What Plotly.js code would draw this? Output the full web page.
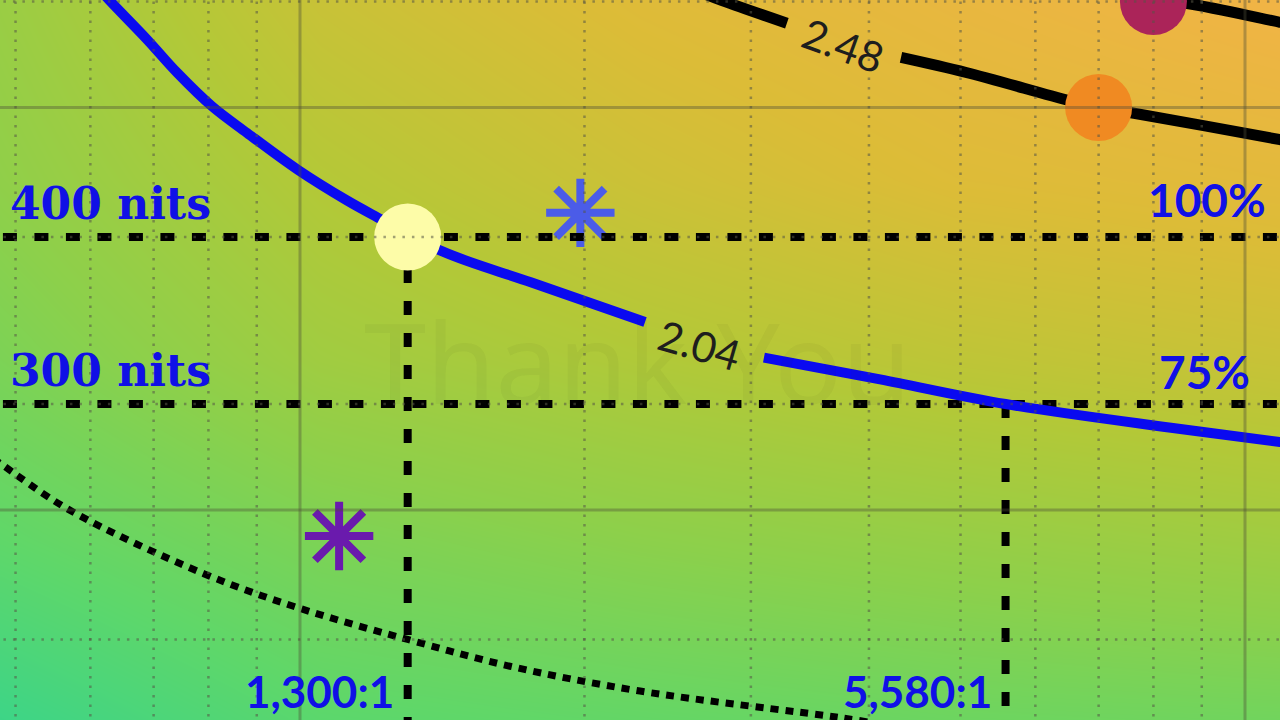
<!DOCTYPE html>
<html>
<head>
<meta charset="utf-8">
<script src="https://cdn.plot.ly/plotly-3.0.1.min.js"></script>
<style>
html,body{margin:0;padding:0;background:#ffffff;}
#chart{width:1280px;height:720px;}
</style>
</head>
<body>
<div id="chart"></div>
<script>
// ---- axis windows (log10 of contrast ratio, log10 of luminance in nits) ----
const xRangeLog = [2.68254, 4.03704];
const yRangeLog = [2.24081, 2.77932];

// ---- grid values ----
const gridMajorX = [1000, 10000];
const gridMinorX = [500, 600, 700, 800, 900, 2000, 3000, 4000, 5000, 6000, 7000, 8000, 9000];
const gridMajorY = [250, 500];
const gridMinorY = [200, 300, 400, 600];

// ---- background shading (0 = teal green, 1 = orange) ----
const bgX = [481, 1050, 2290, 4994, 10890];
const bgY = [174, 237, 324, 441, 601];
const bgShade = [
  [0.03, 0.18, 0.22, 0.26, 0.28],
  [0.20, 0.33, 0.40, 0.45, 0.50],
  [0.33, 0.50, 0.58, 0.65, 0.70],
  [0.42, 0.60, 0.72, 0.81, 0.85],
  [0.47, 0.70, 0.82, 0.90, 0.97]
];

// ---- curves ----
const curve204X = [607, 629, 689, 741, 807, 879, 995, 1121, 1206, 1417, 1755, 2318, null, 3097, 4110, 5580, 8350, 10890, 11435];
const curve204Y = [618, 601, 562, 531, 501, 478.5, 449, 426, 414, 390, 370, 345.5, null, 325, 313, 300, 288, 281, 279.5];
const curve248X = [2586, 2797, 3275, null, 4325, 5069, 6513, 7000, 7630, 10890, 11435];
const curve248Y = [614, 601, 578, null, 545, 531, 506, 500, 495, 473, 469.7];
const curveTopX = [7600, 8000, 8683, 10890, 11435];
const curveTopY = [606, 601, 598, 579, 575];
const curveDotX = [459, 481, 570, 791, 1000, 1300, 1668, 2290, 3691, 4011];
const curveDotY = [277, 271, 250, 224, 211, 200, 191, 183, 175, 173.4];
const curveLabels = ['2.04', '2.48'];
const curveLabelX = [2650, 3755];
const curveLabelY = [332, 557];

// ---- reference levels ----
const levelNits = [400, 300];
const nitLabels = ['400 nits', '300 nits'];
const pctLabels = ['100%', '75%'];
const levelRatio = [1300, 5580];
const ratioLabels = ['1,300:1', '5,580:1'];

// ---- points ----
const dotX = [1300, 7000, 8000];
const dotY = [400, 500, 600];
const dotColors = ['#fdfca8', '#f08a22', '#ab2459'];
const starX = [1980, 1100];
const starY = [417, 239];
const starColors = ['#4b5ce8', '#6a1aad'];

const watermark = 'Thank You';

// ---------------------------------------------------------------
const xLo = Math.pow(10, xRangeLog[0]) * 0.8, xHi = Math.pow(10, xRangeLog[1]) * 1.2;
const yLo = Math.pow(10, yRangeLog[0]) * 0.8, yHi = Math.pow(10, yRangeLog[1]) * 1.2;

function vLines(vals, from, to) {
  const x = [], y = [];
  vals.forEach(v => { x.push(v, v, null); y.push(from, to, null); });
  return {x, y};
}
function hLines(vals, from, to) {
  const x = [], y = [];
  vals.forEach(v => { x.push(from, to, null); y.push(v, v, null); });
  return {x, y};
}

const traces = [];

traces.push({
  type: 'heatmap', x: bgX, y: bgY, z: bgShade, zsmooth: 'best',
  zmin: 0, zmax: 1, showscale: false, hoverinfo: 'skip',
  colorscale: [[0, 'rgb(55,212,140)'], [0.2, 'rgb(95,215,105)'], [0.4, 'rgb(140,208,75)'],
               [0.6, 'rgb(180,200,55)'], [0.8, 'rgb(220,188,55)'], [1, 'rgb(245,178,72)']]
});

// asterisks
traces.push({
  type: 'scatter', mode: 'markers', x: starX, y: starY, hoverinfo: 'skip',
  marker: {symbol: 'asterisk-open', size: 57, color: starColors, line: {width: 8, color: starColors}}
});

// dashed reference lines
const hRef = hLines(levelNits, xLo, xHi);
traces.push({type: 'scatter', mode: 'lines', x: hRef.x, y: hRef.y, hoverinfo: 'skip',
  line: {color: '#000000', width: 8, dash: '14px,17.5px'}});
const vRefX = [], vRefY = [];
levelRatio.forEach((r, i) => { vRefX.push(r, r, null); vRefY.push(levelNits[i], yLo, null); });
traces.push({type: 'scatter', mode: 'lines', x: vRefX, y: vRefY, hoverinfo: 'skip',
  line: {color: '#000000', width: 8, dash: '14px,18px'}});

// dotted curve
traces.push({type: 'scatter', mode: 'lines', x: curveDotX, y: curveDotY, hoverinfo: 'skip',
  line: {color: '#000000', width: 7, dash: '8px,7px', shape: 'spline', smoothing: 1}});

// blue curve 2.04
traces.push({type: 'scatter', mode: 'lines', x: curve204X, y: curve204Y, hoverinfo: 'skip', connectgaps: false,
  line: {color: '#0a0af0', width: 10, shape: 'spline', smoothing: 1}});

// black curves
traces.push({type: 'scatter', mode: 'lines', x: curve248X, y: curve248Y, hoverinfo: 'skip', connectgaps: false,
  line: {color: '#000000', width: 11, shape: 'spline', smoothing: 1}});
traces.push({type: 'scatter', mode: 'lines', x: curveTopX, y: curveTopY, hoverinfo: 'skip',
  line: {color: '#000000', width: 11, shape: 'spline', smoothing: 1}});

// circles
traces.push({type: 'scatter', mode: 'markers', x: dotX, y: dotY, hoverinfo: 'skip', cliponaxis: false,
  marker: {size: 67, color: dotColors, line: {width: 0}}});

// grid on top (semi-transparent)
const gMinV = vLines(gridMinorX, yLo, yHi);
const gMinH = hLines(gridMinorY, xLo, xHi);
traces.push({type: 'scatter', mode: 'lines', x: gMinV.x.concat(gMinH.x), y: gMinV.y.concat(gMinH.y),
  hoverinfo: 'skip', line: {color: 'rgba(85,85,70,0.55)', width: 2.5, dash: '2.5px,7px'}});
const gMajV = vLines(gridMajorX, yLo, yHi);
const gMajH = hLines(gridMajorY, xLo, xHi);
traces.push({type: 'scatter', mode: 'lines', x: gMajV.x.concat(gMajH.x), y: gMajV.y.concat(gMajH.y),
  hoverinfo: 'skip', line: {color: 'rgba(75,75,55,0.38)', width: 3}});

// ---- annotations ----
const blueText = '#1010e6';
const annotations = [];
annotations.push({xref: 'paper', yref: 'paper', x: 0.498, y: 0.5, text: watermark, showarrow: false,
  font: {family: 'Noto Sans', size: 112, color: 'rgba(40,40,20,0.045)'}});
levelNits.forEach((v, i) => {
  annotations.push({xref: 'paper', yref: 'y', x: 0.006, y: Math.log10(v), xanchor: 'left', yanchor: 'bottom',
    yshift: 6, text: nitLabels[i], showarrow: false,
    font: {family: 'DejaVu Serif', size: 44, color: blueText, weight: 'bold'}});
});
const pctRight = [0.9906, 0.978];
const pctShift = [8, 3];
levelNits.forEach((v, i) => {
  annotations.push({xref: 'paper', yref: 'y', x: pctRight[i], y: Math.log10(v), xanchor: 'right', yanchor: 'bottom',
    yshift: pctShift[i], text: pctLabels[i], showarrow: false,
    font: {family: 'Lato', size: 46, color: blueText, weight: 'bold'}});
});
levelRatio.forEach((r, i) => {
  annotations.push({xref: 'x', yref: 'paper', x: Math.log10(r), y: 0, xanchor: 'right', yanchor: 'bottom',
    xshift: -12, yshift: 1, text: ratioLabels[i], showarrow: false,
    font: {family: 'Lato', size: 44, color: blueText, weight: 'bold'}});
});
const curveAngles = [16, 20];
curveLabels.forEach((t, i) => {
  annotations.push({xref: 'x', yref: 'y', x: Math.log10(curveLabelX[i]), y: Math.log10(curveLabelY[i]),
    text: t, showarrow: false, textangle: curveAngles[i],
    font: {family: 'Lato', size: 42, color: '#1e1e1e'}});
});

const layout = {
  width: 1280, height: 720,
  margin: {l: 0, r: 0, t: 0, b: 0, pad: 0},
  paper_bgcolor: 'rgba(0,0,0,0)', plot_bgcolor: 'rgba(0,0,0,0)',
  showlegend: false,
  xaxis: {type: 'log', range: xRangeLog, showgrid: false, zeroline: false, showticklabels: false,
          ticks: '', showline: false, fixedrange: true},
  yaxis: {type: 'log', range: yRangeLog, showgrid: false, zeroline: false, showticklabels: false,
          ticks: '', showline: false, fixedrange: true},
  annotations: annotations
};

Plotly.newPlot('chart', traces, layout, {displayModeBar: false, staticPlot: true});
</script>
</body>
</html>
